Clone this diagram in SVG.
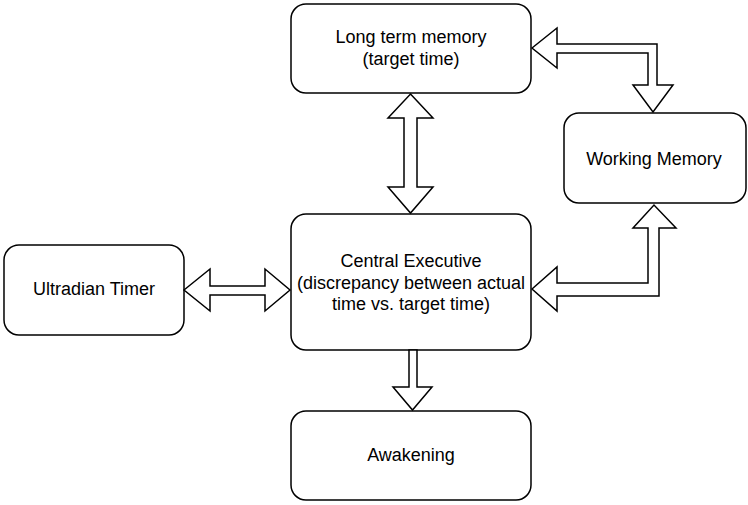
<svg xmlns="http://www.w3.org/2000/svg" width="748" height="505" viewBox="0 0 748 505">
<style>
.box{fill:#fff;stroke:#000;stroke-width:1.5}
.arr{fill:#fff;stroke:#000;stroke-width:1.5;stroke-linejoin:miter}
text{font-family:"Liberation Sans",Arial,sans-serif;font-size:18px;fill:#000;text-anchor:middle}
</style>
<rect width="748" height="505" fill="#fff"/>
<g id="ltm"><rect class="box" x="291" y="4" width="240" height="89" rx="15"/><text x="411" y="43">Long term memory</text><text x="411" y="65">(target time)</text></g>
<g id="wm"><rect class="box" x="564" y="113" width="182" height="90" rx="15"/><text x="654" y="165">Working Memory</text></g>
<g id="ce"><rect class="box" x="291" y="214" width="240" height="136" rx="15"/><text x="411" y="267">Central Executive</text><text x="411" y="289">(discrepancy between actual</text><text x="411" y="310">time vs. target time)</text></g>
<g id="ut"><rect class="box" x="4" y="245" width="180" height="90" rx="15"/><text x="94" y="295">Ultradian Timer</text></g>
<g id="aw"><rect class="box" x="291" y="411" width="240" height="89" rx="15"/><text x="411" y="461">Awakening</text></g>
<g id="connectors">
<polygon class="arr" points="410.5,94 433,118 417,118 417,187 433,187 410.5,213 388,187 404,187 404,118 388,118"/>
<polygon class="arr" points="184,290 210,269 210,286 265,286 265,269 290,290 265,311 265,295 210,295 210,311"/>
<polygon class="arr" points="409,350 417,350 417,387 432,387 412.5,410 393,387 409,387"/>
<polygon class="arr" points="532,48 557,28 557,44 657,44 657,85 673,85 653,112 633,85 648,85 648,53 557,53 557,68"/>
<polygon class="arr" points="532,289 557,267 557,283 648,283 648,228 633,228 654,205 676,228 659,228 659,296 557,296 557,311"/>
</g>
</svg>
